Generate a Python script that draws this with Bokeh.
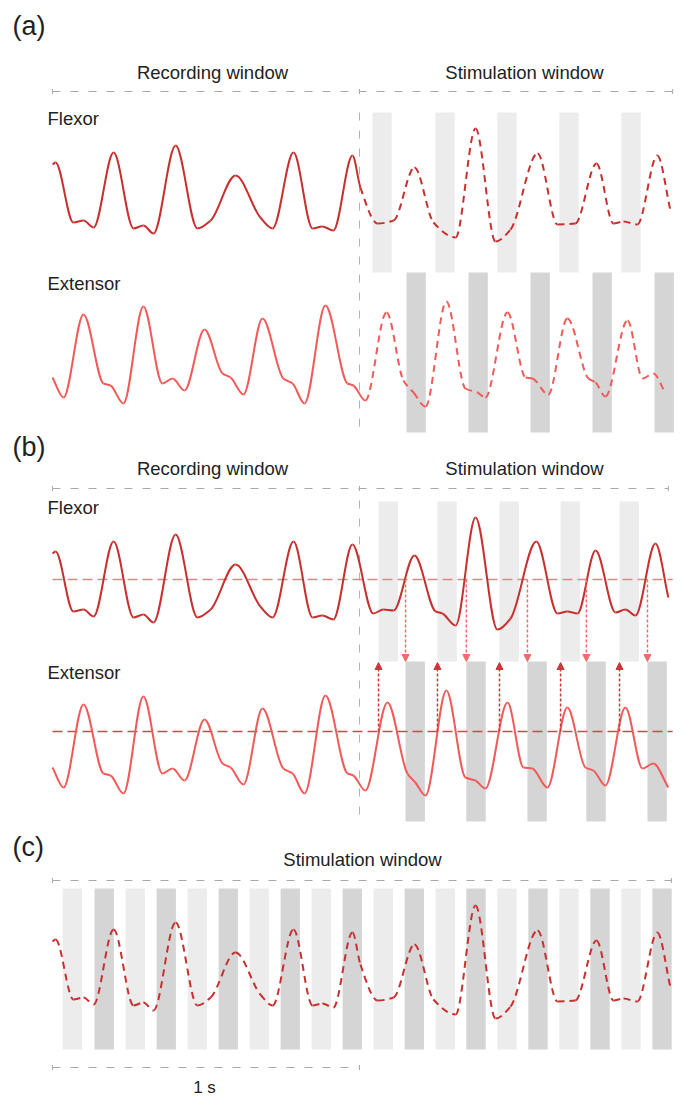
import numpy as np
from bokeh.plotting import figure
from bokeh.models import Range1d, Label, Arrow, NormalHead, ColumnDataSource
from bokeh.embed import file_html
from bokeh.resources import INLINE

# ---------------- data (time in ms, amplitude in a.u.) ----------------
flexor_rec_t = [0, 10, 68, 101, 134, 199, 264, 296, 329, 401, 472, 515, 596, 677, 717, 785, 847, 879, 915, 977]
flexor_rec_a = [0.76, 0.78, 0.18, 0.20, 0.13, 0.88, 0.12, 0.15, 0.07, 0.95, 0.12, 0.20, 0.65, 0.23, 0.12, 0.88, 0.12, 0.14, 0.10, 0.85]

flexor_open_t = [1003, 1059, 1111, 1179, 1241, 1313, 1378, 1443, 1492, 1580, 1645, 1703, 1772, 1827, 1860, 1905, 1970, 2013]
flexor_open_a = [0.53, 0.17, 0.20, 0.73, 0.18, 0.03, 1.12, -0.01, 0.11, 0.87, 0.16, 0.17, 0.77, 0.17, 0.19, 0.16, 0.85, 0.30]

flexor_closed_t = [1045, 1078, 1111, 1179, 1248, 1270, 1313, 1378, 1449, 1492, 1576, 1645, 1677, 1710, 1769, 1834, 1866, 1899, 1964, 2006]
flexor_closed_a = [0.16, 0.20, 0.19, 0.74, 0.18, 0.16, 0.04, 1.12, 0.00, 0.11, 0.88, 0.16, 0.18, 0.16, 0.79, 0.17, 0.20, 0.14, 0.86, 0.32]

extensor_rec_t = [0, 36, 101, 166, 189, 231, 296, 358, 391, 430, 495, 554, 580, 622, 684, 752, 782, 821, 889, 961, 980, 1019]
extensor_rec_a = [0.33, 0.13, 0.96, 0.27, 0.25, 0.07, 1.04, 0.27, 0.32, 0.20, 0.81, 0.37, 0.33, 0.16, 0.92, 0.32, 0.27, 0.07, 1.05, 0.27, 0.25, 0.10]

extensor_open_t = [1088, 1143, 1176, 1215, 1283, 1345, 1384, 1410, 1482, 1541, 1563, 1615, 1677, 1746, 1769, 1801, 1873, 1922, 1957, 1997]
extensor_open_a = [0.98, 0.30, 0.18, 0.04, 1.09, 0.22, 0.18, 0.13, 0.98, 0.33, 0.32, 0.16, 0.92, 0.32, 0.28, 0.14, 0.90, 0.32, 0.37, 0.17]

extensor_closed_t = [1091, 1156, 1182, 1215, 1283, 1345, 1378, 1410, 1482, 1534, 1563, 1612, 1677, 1736, 1762, 1801, 1866, 1922, 1957, 2006]
extensor_closed_a = [0.98, 0.27, 0.18, 0.05, 1.10, 0.23, 0.20, 0.12, 0.98, 0.33, 0.32, 0.13, 0.93, 0.33, 0.30, 0.15, 0.93, 0.32, 0.37, 0.13]

flexor_threshold = 0.50
extensor_threshold = 0.69

# stimulation pulse onsets (ms)
open_flexor_on = [1042, 1247, 1449, 1651, 1853]
open_extensor_on = [1153, 1355, 1557, 1759, 1961]
closed_flexor_on = [1062, 1254, 1456, 1655, 1847]
closed_extensor_on = [1150, 1348, 1547, 1739, 1938]
cont_flexor_on = [33, 238, 440, 642, 844, 1046, 1248, 1449, 1651, 1853]
cont_extensor_on = [137, 339, 541, 743, 945, 1147, 1348, 1550, 1752, 1954]
pulse_ms = 63

recording_window = [0, 1000]
stim_end = {"a": 2020, "b": 2006, "c": 2016}
scale_bar = [0, 1000]

# ---------------- layout helpers ----------------
PX_PER_MS = 0.307
X0 = 52


def xm(px):
    return (px - X0) / PX_PER_MS


def yp(py):
    return -py / 100.0


FLEX_DARK = "#c8302f"
EXT_RED = "#f25a5a"
LIGHT_BAR = "#ececec"
DARK_BAR = "#d5d5d5"
GUIDE = "#a9a9a9"
FONT = "Liberation Sans"

W, H = 684, 1096
p = figure(width=W, height=H,
           x_range=Range1d(xm(0), xm(W)), y_range=Range1d(yp(H), yp(0)),
           output_backend="svg", toolbar_location=None,
           x_axis_location=None, y_axis_location=None, min_border=0)
p.grid.visible = False
p.outline_line_color = None
p.background_fill_color = "white"
p.border_fill_color = "white"


def bars(onsets, top_py, bot_py, color):
    p.quad(left=list(onsets), right=[o + pulse_ms for o in onsets],
           top=[yp(top_py)] * len(onsets), bottom=[yp(bot_py)] * len(onsets),
           fill_color=color, line_color=None)


def hermite(t, y):
    t = np.asarray(t, float)
    y = np.asarray(y, float)
    h = np.diff(t)
    d = np.diff(y) / h
    n = len(t)
    m = np.zeros(n)
    for k in range(1, n - 1):
        if d[k - 1] * d[k] > 0:
            w1 = 2 * h[k] + h[k - 1]
            w2 = h[k] + 2 * h[k - 1]
            m[k] = (w1 + w2) / (w1 / d[k - 1] + w2 / d[k])
    m[0] = d[0]
    m[-1] = d[-1]
    return dict(x0=t[:-1], y0=y[:-1], x1=t[1:], y1=y[1:],
                cx0=t[:-1] + h / 3, cy0=y[:-1] + m[:-1] * h / 3,
                cx1=t[1:] - h / 3, cy1=y[1:] - m[1:] * h / 3)


def wave(t, a, base_py, color, split=None, all_dashed=False):
    y = [yp(base_py) + v for v in a]
    seg = hermite(t, y)
    if all_dashed:
        mask = np.ones(len(seg["x0"]), bool)
    elif split is None:
        mask = np.zeros(len(seg["x0"]), bool)
    else:
        mask = seg["x0"] >= split
    solid = {k: v[~mask] for k, v in seg.items()}
    dashed = {k: v[mask] for k, v in seg.items()}
    if len(solid["x0"]):
        p.bezier(source=ColumnDataSource(solid), x0="x0", y0="y0", x1="x1", y1="y1",
                 cx0="cx0", cy0="cy0", cx1="cx1", cy1="cy1",
                 line_color=color, line_width=2)
    if len(dashed["x0"]):
        p.bezier(source=ColumnDataSource(dashed), x0="x0", y0="y0", x1="x1", y1="y1",
                 cx0="cx0", cy0="cy0", cx1="cx1", cy1="cy1",
                 line_color=color, line_width=2, line_dash="7 5")


def header(t0, t1, py, ticks):
    p.segment(x0=[t0], y0=[yp(py)], x1=[t1], y1=[yp(py)],
              line_color=GUIDE, line_width=1, line_dash="8 10")
    p.segment(x0=ticks, y0=[yp(py - 2.5)] * len(ticks), x1=ticks, y1=[yp(py + 2.5)] * len(ticks),
              line_color=GUIDE, line_width=1)


def vsep(t, py0, py1):
    p.segment(x0=[t], y0=[yp(py0)], x1=[t], y1=[yp(py1)],
              line_color="#b3b3b3", line_width=1, line_dash="8 10")


def label(text, px, py, size="18.5px", align="left"):
    p.add_layout(Label(x=xm(px), y=yp(py), text=text, text_font=FONT, text_font_size=size,
                       text_color="#222222", text_align=align, text_baseline="middle"))


# ---------------- panel (a) ----------------
bars(open_flexor_on, 112, 272, LIGHT_BAR)
bars(open_extensor_on, 272, 432, DARK_BAR)
header(recording_window[0], stim_end["a"], 91, [recording_window[0], recording_window[1], stim_end["a"]])
vsep(recording_window[1], 112, 432)
wave(flexor_rec_t + flexor_open_t, flexor_rec_a + flexor_open_a, 240, FLEX_DARK, split=1003)
wave(extensor_rec_t + extensor_open_t, extensor_rec_a + extensor_open_a, 410, EXT_RED, split=1019)
label("(a)", 12, 25, size="27px")
label("Recording window", 212, 72, align="center")
label("Stimulation window", 524, 72, align="center")
label("Flexor", 47, 118)
label("Extensor", 47, 283)

# ---------------- panel (b) ----------------
bars(closed_flexor_on, 501, 661, LIGHT_BAR)
bars(closed_extensor_on, 661, 821, DARK_BAR)
header(recording_window[0], stim_end["b"], 488, [recording_window[0], recording_window[1], stim_end["b"]])
vsep(recording_window[1], 500, 821)
p.segment(x0=[0], y0=[yp(629) + flexor_threshold], x1=[stim_end["a"]], y1=[yp(629) + flexor_threshold],
          line_color="#f08080", line_width=1.3, line_dash="10 5")
p.segment(x0=[0], y0=[yp(800) + extensor_threshold], x1=[stim_end["a"]], y1=[yp(800) + extensor_threshold],
          line_color="#cf4848", line_width=1.3, line_dash="10 5")
wave(flexor_rec_t + flexor_closed_t, flexor_rec_a + flexor_closed_a, 629, FLEX_DARK)
wave(extensor_rec_t + extensor_closed_t, extensor_rec_a + extensor_closed_a, 800, EXT_RED)

down_src = ColumnDataSource(dict(x=closed_extensor_on,
                                 y0=[yp(629) + flexor_threshold] * len(closed_extensor_on),
                                 y1=[yp(661)] * len(closed_extensor_on)))
up_src = ColumnDataSource(dict(x=closed_flexor_on,
                               y0=[yp(800) + extensor_threshold] * len(closed_flexor_on),
                               y1=[yp(662)] * len(closed_flexor_on)))
p.add_layout(Arrow(source=down_src, x_start="x", y_start="y0", x_end="x", y_end="y1",
                   line_color="#f26b6b", line_width=1.5, line_dash="3 2",
                   end=NormalHead(size=7, fill_color="#f26b6b", line_color="#f26b6b")))
p.add_layout(Arrow(source=up_src, x_start="x", y_start="y0", x_end="x", y_end="y1",
                   line_color="#c83a3a", line_width=1.5, line_dash="3 2",
                   end=NormalHead(size=7, fill_color="#c83a3a", line_color="#c83a3a")))
label("(b)", 12, 446, size="27px")
label("Recording window", 212, 468, align="center")
label("Stimulation window", 524, 468, align="center")
label("Flexor", 47, 507)
label("Extensor", 47, 672)

# ---------------- panel (c) ----------------
bars(cont_flexor_on, 888, 1049, LIGHT_BAR)
bars(cont_extensor_on, 888, 1049, DARK_BAR)
header(recording_window[0], stim_end["c"], 880, [recording_window[0], stim_end["c"]])
header(scale_bar[0], scale_bar[1], 1067, scale_bar)
wave(flexor_rec_t + flexor_open_t, flexor_rec_a + flexor_open_a, 1017, FLEX_DARK, all_dashed=True)
label("(c)", 12, 846, size="27px")
label("Stimulation window", 362, 859, align="center")
label("1 s", 204, 1087, size="17px", align="center")

open("out.html", "w").write(file_html(p, INLINE))
